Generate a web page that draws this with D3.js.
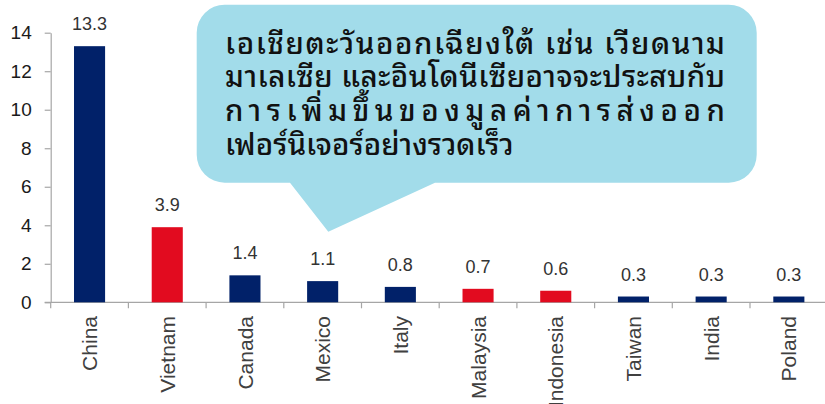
<!DOCTYPE html>
<html>
<head>
<meta charset="utf-8">
<script src="https://cdn.jsdelivr.net/npm/d3@7"></script>
<style>
  html, body { margin: 0; padding: 0; background: #fff; }
  svg { display: block; }
</style>
</head>
<body>
<svg id="chart" width="825" height="404"></svg>
<script>
// Furniture export growth by country
const categories = ["China", "Vietnam", "Canada", "Mexico", "Italy", "Malaysia", "Indonesia", "Taiwan", "India", "Poland"];
const values = [13.3, 3.9, 1.4, 1.1, 0.8, 0.7, 0.6, 0.3, 0.3, 0.3];
const highlighted = ["Vietnam", "Malaysia", "Indonesia"];
const yTicks = [0, 2, 4, 6, 8, 10, 12, 14];
const calloutLines = [
  "เอเชียตะวันออกเฉียงใต้ เช่น เวียดนาม",
  "มาเลเซีย และอินโดนีเซียอาจจะประสบกับ",
  "การเพิ่มขึ้นของมูลค่าการส่งออก",
  "เฟอร์นิเจอร์อย่างรวดเร็ว"
];

const NAVY = "#012169";
const RED = "#e20b1f";
const AXIS = "#a6a6a6";
const BUBBLE = "#a2dcea";

const svg = d3.select("#chart");

const plot = { left: 50.7, right: 827.7, top: 32.7, bottom: 302.3 };

const x = d3.scaleBand()
  .domain(categories)
  .range([plot.left, plot.right])
  .paddingInner(0.6)
  .paddingOuter(0.3);

const y = d3.scaleLinear()
  .domain([0, 14])
  .range([plot.bottom, plot.top]);

// y axis
const yAxis = svg.append("g")
  .attr("transform", `translate(${plot.left},0)`)
  .call(d3.axisLeft(y).tickValues(yTicks).tickSize(6).tickPadding(13).tickSizeOuter(0));
yAxis.select(".domain").attr("stroke", AXIS).attr("stroke-width", 1.2);
yAxis.selectAll(".tick line").attr("stroke", AXIS).attr("stroke-width", 1.2);
yAxis.selectAll(".tick text")
  .attr("font-family", "Arial, 'Liberation Sans', sans-serif")
  .attr("font-size", 19)
  .attr("fill", "#1a1a1a");

// x axis baseline with category separators
const step = x.step();
const bounds = d3.range(categories.length + 1).map(i => plot.left + i * step);
svg.append("line")
  .attr("x1", plot.left - 6).attr("x2", 825)
  .attr("y1", y(0)).attr("y2", y(0))
  .attr("stroke", AXIS).attr("stroke-width", 1.2);
svg.append("g").selectAll("line")
  .data(bounds)
  .join("line")
  .attr("x1", d => d).attr("x2", d => d)
  .attr("y1", y(0)).attr("y2", y(0) + 6)
  .attr("stroke", AXIS).attr("stroke-width", 1.2);

// bars
const data = categories.map((c, i) => ({ c, v: values[i] }));
svg.append("g").selectAll("rect")
  .data(data)
  .join("rect")
  .attr("x", d => x(d.c))
  .attr("width", x.bandwidth())
  .attr("y", d => y(d.v))
  .attr("height", d => y(0) - y(d.v))
  .attr("fill", d => highlighted.includes(d.c) ? RED : NAVY);

// value labels
svg.append("g").selectAll("text")
  .data(data)
  .join("text")
  .attr("x", d => x(d.c) + x.bandwidth() / 2)
  .attr("y", d => y(d.v) - 16)
  .attr("text-anchor", "middle")
  .attr("font-family", "Arial, 'Liberation Sans', sans-serif")
  .attr("font-size", 18)
  .attr("fill", "#333")
  .text(d => d3.format(".1f")(d.v));

// category labels, rotated
svg.append("g").selectAll("text")
  .data(categories)
  .join("text")
  .attr("transform", d => `translate(${x(d) + x.bandwidth() / 2},316) rotate(-90)`)
  .attr("dy", "0.36em")
  .attr("text-anchor", "end")
  .attr("font-family", "Arial, 'Liberation Sans', sans-serif")
  .attr("font-size", 21)
  .attr("fill", "#404040")
  .text(d => d);

// callout bubble
const bx0 = 196.7, bx1 = 756.7, by0 = 4.7, by1 = 182.7, r = 28;
const tail = { left: 290, right: 435, tipX: 328.3, tipY: 231.7 };
const p = d3.path();
p.moveTo(bx0 + r, by0);
p.lineTo(bx1 - r, by0);
p.arcTo(bx1, by0, bx1, by0 + r, r);
p.lineTo(bx1, by1 - r);
p.arcTo(bx1, by1, bx1 - r, by1, r);
p.lineTo(tail.right, by1);
p.lineTo(tail.tipX, tail.tipY);
p.lineTo(tail.left, by1);
p.lineTo(bx0 + r, by1);
p.arcTo(bx0, by1, bx0, by1 - r, r);
p.lineTo(bx0, by0 + r);
p.arcTo(bx0, by0, bx0 + r, by0, r);
p.closePath();
svg.append("path").attr("d", p.toString()).attr("fill", BUBBLE);

// callout text: first three lines justified to a common width
const textLeft = 225, textWidth = 500, firstBaseline = 53.5, lineGap = 33.9;
const thaiFont = "'Noto Sans Thai Looped', Tahoma, Loma, Garuda, 'Noto Sans Thai', sans-serif";
const fontSize = 29.5;
const seg = new Intl.Segmenter("th", { granularity: "grapheme" });

calloutLines.forEach((line, i) => {
  const t = svg.append("text")
    .attr("x", textLeft)
    .attr("y", firstBaseline + i * lineGap)
    .attr("font-family", thaiFont)
    .attr("font-size", fontSize)
    .attr("font-weight", 500)
    .attr("fill", "#111")
    .text(line);
  if (i === 3) return;
  const clusters = Array.from(seg.segment(line)).length;
  const natural = t.node().getComputedTextLength();
  t.attr("letter-spacing", (textWidth - natural) / (clusters - 1));
});
</script>
</body>
</html>
